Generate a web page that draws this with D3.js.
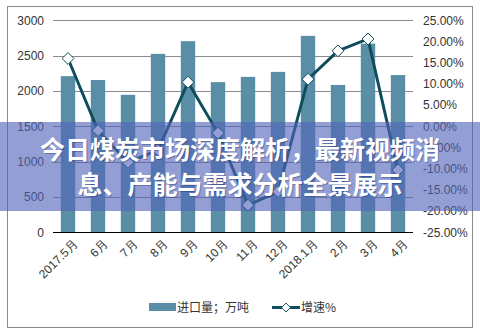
<!DOCTYPE html>
<html><head><meta charset="utf-8">
<script src="https://cdn.jsdelivr.net/npm/d3@7"></script>
<style>
html,body{margin:0;padding:0;background:#fff;}
svg{display:block;}
</style></head>
<body>
<svg id="chart" width="480" height="334"></svg>
<script>
const categories = ["2017.5月","6月","7月","8月","9月","10月","11月","12月","2018.1月","2月","3月","4月"];
const imports = [2210, 2155, 1945, 2525, 2705, 2125, 2200, 2270, 2780, 2085, 2670, 2225];
const growth = [16.0, -1.0, -8.5, -5.6, 10.4, -1.6, -18.6, -15.4, 11.1, 17.8, 20.6, -10.3];
const leftTicks = [0, 500, 1000, 1500, 2000, 2500, 3000];
const rightTicks = [-25, -20, -15, -10, -5, 0, 5, 10, 15, 20, 25];
const seriesNames = ["进口量；万吨", "增速%"];
const titleLines = ["今日煤炭市场深度解析，最新视频消", "息、产能与需求分析全景展示"];

const svg = d3.select("#chart");
const font = "'Liberation Sans', Arial, sans-serif";
const barColor = "#5a8ea6";
const lineColor = "#0f4d5c";

// frame
svg.append("rect").attr("x", 7.5).attr("y", 6.5).attr("width", 465).attr("height", 321)
  .attr("fill", "#fff").attr("stroke", "#8a8a8a").attr("stroke-width", 1);

const x = d3.scaleBand().domain(categories).range([53, 413]).paddingInner(0.52).paddingOuter(0.26);
const yL = d3.scaleLinear().domain([0, 3000]).range([232.3, 20.3]);
const yR = d3.scaleLinear().domain([-25, 25]).range([232.3, 20.3]);

// gridlines
svg.append("g").selectAll("line").data(leftTicks.filter(d => d > 0)).join("line")
  .attr("x1", 53).attr("x2", 413)
  .attr("y1", d => Math.round(yL(d)) + 0.5).attr("y2", d => Math.round(yL(d)) + 0.5)
  .attr("stroke", "#8c8c8c").attr("stroke-width", 1);

// left axis labels
const gl = svg.append("g").attr("transform", "translate(53,0)")
  .call(d3.axisLeft(yL).tickValues(leftTicks).tickSize(0).tickPadding(9).tickFormat(d3.format("d")));
gl.select(".domain").remove();
gl.selectAll("text").attr("font-family", font).attr("font-size", 12).attr("fill", "#333");

// right axis labels
const gr = svg.append("g").attr("transform", "translate(413,0)")
  .call(d3.axisRight(yR).tickValues(rightTicks).tickSize(0).tickPadding(10).tickFormat(d => d.toFixed(2) + "%"));
gr.select(".domain").remove();
gr.selectAll("text").attr("font-family", font).attr("font-size", 12).attr("fill", "#333");

// bars
svg.append("g").selectAll("rect").data(imports).join("rect")
  .attr("x", (d, i) => x(categories[i]))
  .attr("width", x.bandwidth())
  .attr("y", d => yL(d))
  .attr("height", d => yL(0) - yL(d))
  .attr("fill", barColor);

// x axis
const gx = svg.append("g").attr("transform", "translate(0," + (Math.round(yL(0)) + 0.5) + ")")
  .call(d3.axisBottom(x).tickSize(0).tickPadding(6));
gx.select(".domain").attr("stroke", "#000").attr("d", "M53,0H413");
gx.selectAll("text").attr("font-family", font).attr("font-size", 12).attr("fill", "#333")
  .attr("text-anchor", "end").attr("dy", "0.35em")
  .attr("transform", "translate(3,5) rotate(-45)");

// line
const xc = c => x(c) + x.bandwidth() / 2;
svg.append("path").datum(growth)
  .attr("d", d3.line().x((d, i) => xc(categories[i])).y(d => yR(d)))
  .attr("fill", "none").attr("stroke", lineColor).attr("stroke-width", 3);
svg.append("g").selectAll("path").data(growth).join("path")
  .attr("d", d3.symbol(d3.symbolDiamond2, 90)())
  .attr("transform", (d, i) => `translate(${xc(categories[i])},${yR(d)})`)
  .attr("fill", "#fff").attr("stroke", lineColor).attr("stroke-width", 1);

// legend
const lg = svg.append("g");
lg.append("rect").attr("x", 149).attr("y", 303).attr("width", 27).attr("height", 8).attr("fill", barColor);
lg.append("text").attr("x", 177).attr("y", 312).text(seriesNames[0])
  .attr("font-family", "'Noto Sans CJK SC', sans-serif").attr("font-size", 12).attr("fill", "#333");
lg.append("line").attr("x1", 272).attr("x2", 300).attr("y1", 307.5).attr("y2", 307.5)
  .attr("stroke", lineColor).attr("stroke-width", 3);
lg.append("path").attr("d", d3.symbol(d3.symbolDiamond2, 50)())
  .attr("transform", "translate(286,307.5)").attr("fill", "#fff").attr("stroke", lineColor);
lg.append("text").attr("x", 301).attr("y", 312).text(seriesNames[1])
  .attr("font-family", "'Noto Sans CJK SC', sans-serif").attr("font-size", 12).attr("fill", "#333");

// banner overlay
svg.append("rect").attr("x", 0).attr("y", 122).attr("width", 480).attr("height", 89)
  .attr("fill", "rgb(80,100,185)").attr("fill-opacity", 0.62);
const tg = svg.append("g");
titleLines.forEach((t, i) => {
  tg.append("text").attr("x", 240).attr("y", 159 + i * 35).attr("text-anchor", "middle")
    .attr("font-family", "'Noto Sans CJK SC', sans-serif").attr("font-weight", "bold")
    .attr("font-size", 25).attr("fill", "rgba(20,30,80,0.35)").attr("dx", 1).attr("dy", 1).text(t);
  tg.append("text").attr("x", 240).attr("y", 159 + i * 35).attr("text-anchor", "middle")
    .attr("font-family", "'Noto Sans CJK SC', sans-serif").attr("font-weight", "bold")
    .attr("font-size", 25).attr("fill", "#fff").text(t);
});
</script>
</body></html>
